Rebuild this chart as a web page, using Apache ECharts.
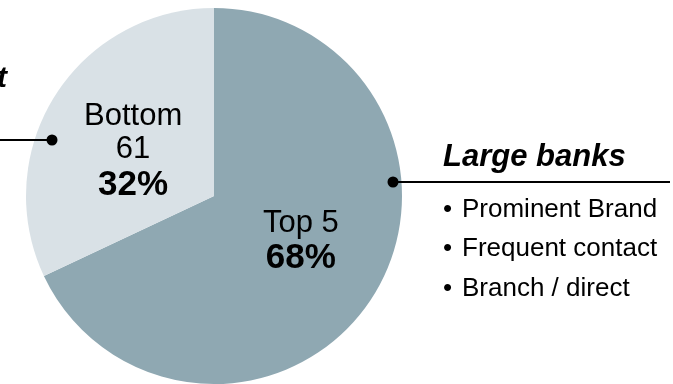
<!DOCTYPE html>
<html>
<head>
<meta charset="utf-8">
<script src="https://cdn.jsdelivr.net/npm/echarts@6/dist/echarts.min.js"></script>
<style>
html,body{margin:0;padding:0;background:#fff;}
#chart{width:673px;height:384px;}
</style>
</head>
<body>
<div id="chart"></div>
<script>
// Data
var categories = ['Top 5', 'Bottom 61'];
var labelLines = [['Top 5'], ['Bottom', '61']];
var shares = [68, 32];
var sliceColors = ['#8FA8B2', '#D9E1E6'];
var calloutTitle = 'Large banks';
var calloutBullets = ['Prominent Brand', 'Frequent contact', 'Branch / direct'];
var leftCalloutFragment = 't';

var FONT = '"Liberation Sans", Arial, Helvetica, sans-serif';
var labelPadding = [[0, 0, 12, 10], [16, 0, 0, 2]];

var pieData = categories.map(function (c, i) {
  return { name: c, value: shares[i], itemStyle: { color: sliceColors[i] },
           lines: labelLines[i], label: { padding: labelPadding[i] } };
});

var chart = echarts.init(document.getElementById('chart'), null, { renderer: 'canvas' });

var graphics = [];
// left callout (cut off at edge)
graphics.push({ type: 'text', left: -3, top: 64, z: 100,
  style: { text: leftCalloutFragment, font: 'italic bold 30px ' + FONT, fill: '#000' } });
graphics.push({ type: 'line', z: 100, shape: { x1: 0, y1: 140, x2: 52, y2: 140 },
  style: { stroke: '#000', lineWidth: 2 } });
graphics.push({ type: 'circle', z: 100, shape: { cx: 52, cy: 140, r: 5.5 }, style: { fill: '#000' } });
// right callout
graphics.push({ type: 'line', z: 100, shape: { x1: 393, y1: 182, x2: 670, y2: 182 },
  style: { stroke: '#000', lineWidth: 2 } });
graphics.push({ type: 'circle', z: 100, shape: { cx: 393, cy: 182, r: 5.5 }, style: { fill: '#000' } });
graphics.push({ type: 'text', z: 100, x: 443, y: 157,
  style: { text: calloutTitle, font: 'italic bold 31px ' + FONT, fill: '#000',
           textVerticalAlign: 'middle', verticalAlign: 'middle' } });
var bulletY = [210, 249, 289];
calloutBullets.forEach(function (b, i) {
  graphics.push({ type: 'text', z: 100, x: 443, y: bulletY[i],
    style: { text: '\u2022', font: '26px ' + FONT, fill: '#000', verticalAlign: 'middle', textVerticalAlign: 'middle' } });
  graphics.push({ type: 'text', z: 100, x: 462, y: bulletY[i],
    style: { text: b, font: '26px ' + FONT, fill: '#000', verticalAlign: 'middle', textVerticalAlign: 'middle' } });
});

chart.setOption({
  animation: false,
  backgroundColor: '#fff',
  series: [{
    type: 'pie',
    center: [214, 196],
    radius: [0, 188],
    startAngle: 90,
    clockwise: true,
    silent: true,
    z: 1,
    itemStyle: { borderWidth: 0 },
    labelLine: { show: false },
    label: {
      show: true,
      position: 'inside',
      formatter: function (p) {
        var lines = p.data.lines.map(function (l) { return '{n|' + l + '}'; });
        lines.push('{b|' + p.value + '%}');
        return lines.join('\n');
      },
      rich: {
        n: { fontFamily: FONT, fontSize: 31, color: '#000', lineHeight: 33, align: 'center' },
        b: { fontFamily: FONT, fontSize: 35, fontWeight: 'bold', color: '#000', lineHeight: 38, align: 'center' }
      }
    },
    data: pieData
  }],
  graphic: graphics
});
</script>
</body>
</html>
